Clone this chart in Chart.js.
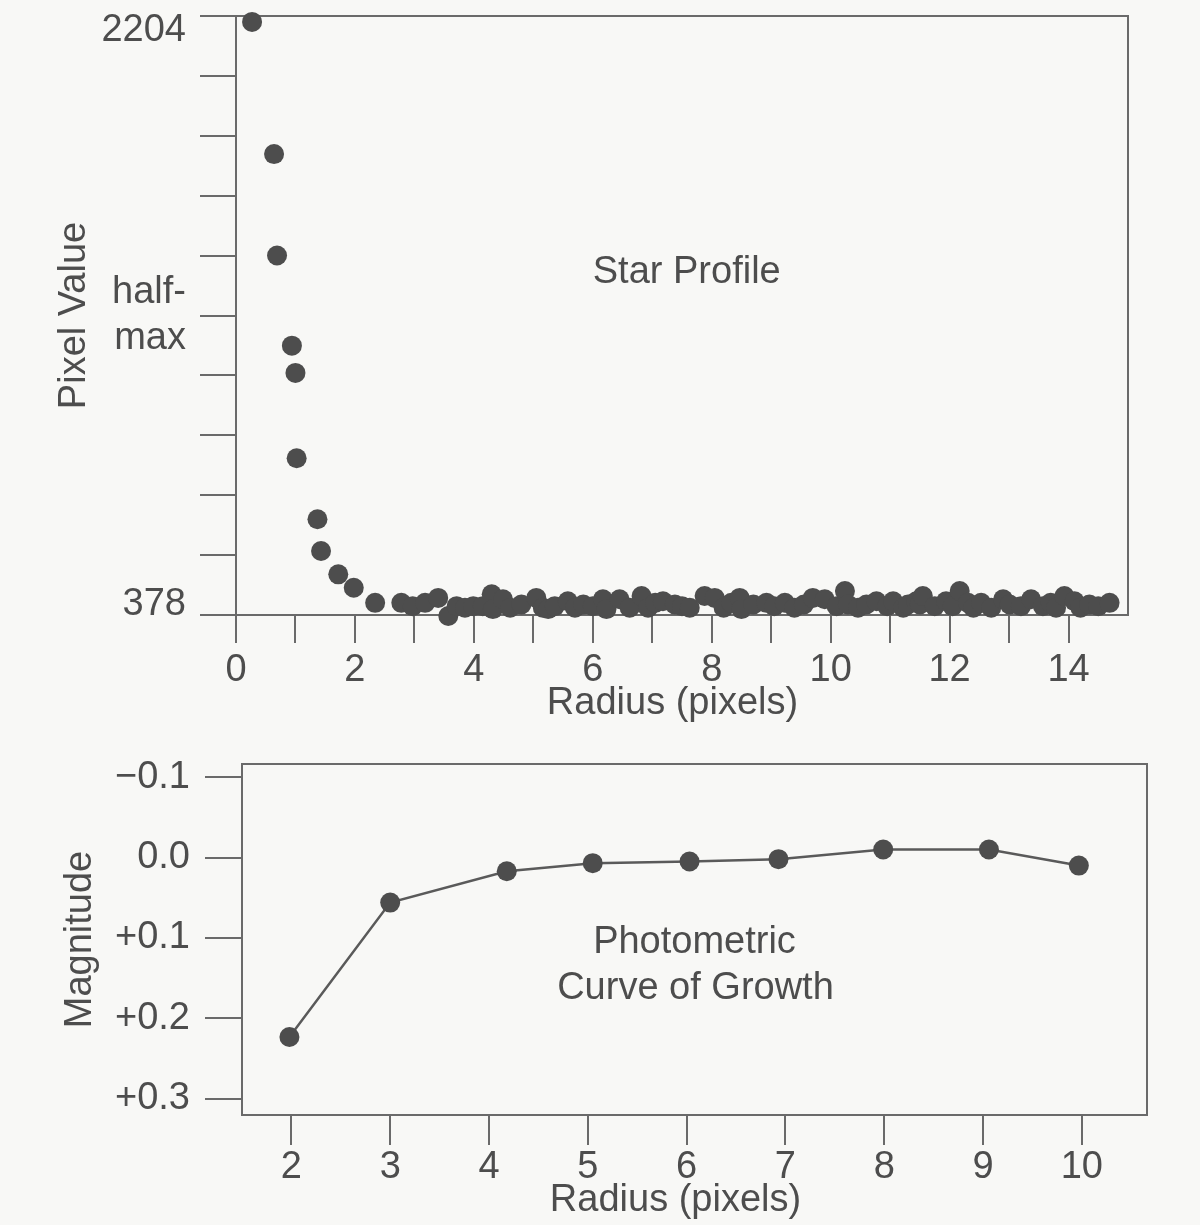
<!DOCTYPE html>
<html>
<head>
<meta charset="utf-8">
<script src="https://cdn.jsdelivr.net/npm/chart.js@4"></script>
<style>
  html, body { margin: 0; padding: 0; background: #f8f8f6; }
  #wrap { position: relative; width: 1200px; height: 1225px; overflow: hidden; }
  canvas { position: absolute; left: 0; }
  #top { top: 0; }
  #bottom { top: 740px; }
</style>
</head>
<body>
<div id="wrap">
  <canvas id="top" width="1200" height="740"></canvas>
  <canvas id="bottom" width="1200" height="485"></canvas>
</div>
<script>
// ---- Star profile data (radius in pixels, pixel value) ----
const profileRadius = [0.27, 0.64, 0.69, 0.94, 1.00, 1.02, 1.37, 1.43, 1.72, 1.98, 2.34, 2.78, 2.97, 3.18, 3.40, 3.57, 3.71, 3.85, 3.99, 4.15, 4.30, 4.32, 4.49, 4.61, 4.80, 5.05, 5.16, 5.25, 5.36, 5.58, 5.70, 5.84, 6.00, 6.17, 6.23, 6.45, 6.62, 6.82, 6.93, 7.05, 7.18, 7.38, 7.50, 7.63, 7.88, 8.05, 8.20, 8.33, 8.47, 8.50, 8.70, 8.92, 9.05, 9.23, 9.39, 9.55, 9.70, 9.90, 10.10, 10.24, 10.29, 10.46, 10.60, 10.77, 10.95, 11.05, 11.22, 11.30, 11.44, 11.50, 11.55, 11.75, 11.94, 12.05, 12.17, 12.31, 12.40, 12.53, 12.70, 12.90, 13.01, 13.20, 13.37, 13.57, 13.70, 13.79, 13.93, 14.10, 14.20, 14.35, 14.50, 14.69];
const profileValue = [2186, 1783, 1474, 1199, 1116, 856, 670, 573, 502, 461, 415, 415, 405, 415, 430, 375, 405, 400, 405, 405, 441, 396, 426, 400, 410, 430, 400, 396, 405, 420, 400, 410, 405, 426, 396, 426, 400, 436, 400, 415, 420, 410, 405, 400, 436, 430, 400, 415, 430, 396, 410, 415, 405, 415, 400, 410, 430, 426, 405, 451, 410, 400, 410, 420, 405, 420, 400, 410, 420, 410, 436, 405, 420, 405, 451, 415, 400, 415, 400, 426, 410, 405, 426, 405, 415, 400, 436, 420, 400, 410, 405, 415];

// ---- Curve of growth data (aperture radius, magnitude) ----
const growthRadius = [1.98, 3.00, 4.18, 5.05, 6.03, 6.93, 7.99, 9.06, 9.97];
const growthMag = [0.223, 0.056, 0.017, 0.007, 0.005, 0.002, -0.010, -0.010, 0.010];

// ---- Tick labels ----
const profilePeak = 2204;
const profileSky = 378;
const profileXTicks = [0, 1, 2, 3, 4, 5, 6, 7, 8, 9, 10, 11, 12, 13, 14];
const growthXTicks = [2, 3, 4, 5, 6, 7, 8, 9, 10];
const growthYTicks = [-0.1, 0.0, 0.1, 0.2, 0.3];
const growthYLabels = ['\u22120.1', '0.0', '+0.1', '+0.2', '+0.3'];

const INK = '#4d4d4d';
const LINE = '#6a6a6a';
const FS = 38;
const FONT = "'Liberation Sans', Arial, Helvetica, sans-serif";
Chart.defaults.font.family = FONT;
Chart.defaults.color = INK;

function noPad(s) { s.paddingTop = 0; s.paddingBottom = 0; s.paddingLeft = 0; s.paddingRight = 0; }

const framePlugin = {
  id: 'frame',
  beforeDatasetsDraw(chart) {
    const a = chart.chartArea, ctx = chart.ctx;
    ctx.save();
    ctx.strokeStyle = LINE;
    ctx.lineWidth = 2;
    ctx.strokeRect(a.left, a.top, a.right - a.left, a.bottom - a.top);
    ctx.restore();
  }
};
const notesPlugin = {
  id: 'notes',
  afterDatasetsDraw(chart, args, opts) {
    const ctx = chart.ctx;
    ctx.save();
    ctx.fillStyle = INK;
    ctx.font = FS + 'px ' + FONT;
    ctx.textAlign = 'center';
    ctx.textBaseline = 'middle';
    (opts.items || []).forEach(it => {
      const x = chart.scales.x.getPixelForValue(it.x);
      const y = chart.scales.y.getPixelForValue(it.y);
      ctx.fillText(it.text, x, y);
    });
    ctx.restore();
  }
};

// ---------- Top: Star Profile ----------
const step = (profilePeak - profileSky) / 10;
const profileYTicks = Array.from({length: 11}, (_, k) => profileSky + k * step);

new Chart(document.getElementById('top'), {
  type: 'scatter',
  data: {
    datasets: [{
      data: profileRadius.map((r, i) => ({x: r, y: profileValue[i]})),
      backgroundColor: '#4d4d4d',
      borderColor: '#4d4d4d',
      borderWidth: 0,
      pointRadius: 10,
      clip: false
    }]
  },
  plugins: [framePlugin, notesPlugin],
  options: {
    responsive: false,
    animation: false,
    devicePixelRatio: 1,
    layout: { padding: { top: 16, right: 72, left: 0, bottom: 0 } },
    plugins: {
      legend: { display: false },
      tooltip: { enabled: false },
      notes: { items: [{ text: 'Star Profile', x: 7.58, y: 1422 }] }
    },
    scales: {
      x: {
        type: 'linear', position: 'bottom', min: 0, max: 15,
        afterFit: s => { s.height = 125; noPad(s); },
        afterBuildTicks: s => { s.ticks = profileXTicks.map(v => ({value: v})); },
        ticks: {
          autoSkip: false, maxRotation: 0, padding: 5, color: INK,
          font: { size: FS },
          callback: v => (v % 2 === 0 ? String(v) : '')
        },
        grid: { display: true, drawOnChartArea: false, drawTicks: true, tickLength: 28, color: LINE, lineWidth: 2 },
        border: { display: false },
        title: { display: true, text: 'Radius (pixels)\u2002', color: INK, font: { size: FS }, padding: { top: 0, bottom: 14 } }
      },
      y: {
        type: 'linear', min: profileSky, max: profilePeak,
        afterFit: s => { s.width = 236; noPad(s); },
        afterBuildTicks: s => { s.ticks = profileYTicks.map(v => ({value: v})); },
        ticks: {
          autoSkip: false, padding: 14, color: INK,
          font: ctx => {
            const i = ctx.index;
            if (i === 10) return { size: FS, lineHeight: 0.74 };
            if (i === 0) return { size: FS, lineHeight: 0.55 };
            return { size: FS, lineHeight: 1.2 };
          },
          callback: (v, i) => {
            if (i === 10) return ['', String(profilePeak)];
            if (i === 5) return ['half-', 'max'];
            if (i === 0) return [String(profileSky), ''];
            return '';
          }
        },
        grid: { display: true, drawOnChartArea: false, drawTicks: true, tickLength: 36, color: LINE, lineWidth: 2 },
        border: { display: false },
        title: { display: true, text: 'Pixel Value', color: INK, font: { size: FS }, padding: { top: 52, bottom: 0 } }
      }
    }
  }
});

// ---------- Bottom: Photometric Curve of Growth ----------
new Chart(document.getElementById('bottom'), {
  type: 'scatter',
  data: {
    datasets: [{
      data: growthRadius.map((r, i) => ({x: r, y: growthMag[i]})),
      showLine: true,
      borderColor: '#5a5a5a',
      borderWidth: 2.5,
      backgroundColor: '#4d4d4d',
      pointBackgroundColor: '#4d4d4d',
      pointBorderWidth: 0,
      pointRadius: 10,
      clip: false
    }]
  },
  plugins: [framePlugin, notesPlugin],
  options: {
    responsive: false,
    animation: false,
    devicePixelRatio: 1,
    layout: { padding: { top: 24, right: 53, left: 0, bottom: 0 } },
    plugins: {
      legend: { display: false },
      tooltip: { enabled: false },
      notes: { items: [
        { text: 'Photometric', x: 6.08, y: 0.1057 },
        { text: 'Curve of Growth', x: 6.09, y: 0.163 }
      ] }
    },
    scales: {
      x: {
        type: 'linear', position: 'bottom', min: 1.5, max: 10.66,
        afterFit: s => { s.height = 110; noPad(s); },
        afterBuildTicks: s => { s.ticks = growthXTicks.map(v => ({value: v})); },
        ticks: { autoSkip: false, maxRotation: 0, padding: 0, color: INK, font: { size: FS }, callback: v => String(v) },
        grid: { display: true, drawOnChartArea: false, drawTicks: true, tickLength: 30, color: LINE, lineWidth: 2 },
        border: { display: false },
        title: { display: true, text: 'Radius (pixels)\u2003', color: INK, font: { size: FS }, padding: { top: 0, bottom: 2 } }
      },
      y: {
        type: 'linear', min: -0.1162, max: 0.3199, reverse: true,
        afterFit: s => { s.width = 242; noPad(s); },
        afterBuildTicks: s => { s.ticks = growthYTicks.map(v => ({value: v})); },
        ticks: {
          autoSkip: false, padding: 15, color: INK, font: { size: FS },
          callback: (v, i) => growthYLabels[i]
        },
        grid: { display: true, drawOnChartArea: false, drawTicks: true, tickLength: 37, color: LINE, lineWidth: 2 },
        border: { display: false },
        title: { display: true, text: 'Magnitude', color: INK, font: { size: FS }, padding: { top: 58, bottom: 0 } }
      }
    }
  }
});
</script>
</body>
</html>
